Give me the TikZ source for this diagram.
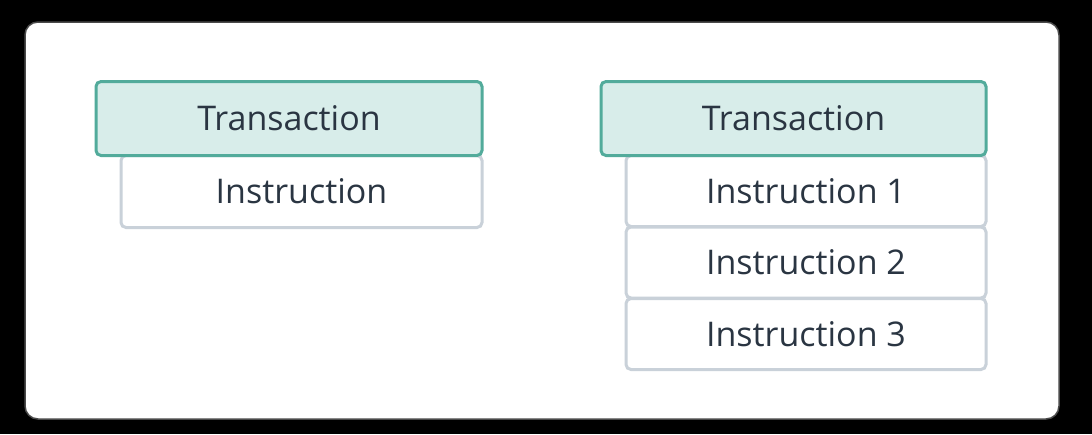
\documentclass[tikz,border=0pt]{standalone}
\usepackage{fontspec}
\setmainfont{Open Sans}
\definecolor{teal}{HTML}{52AB9B}
\definecolor{tealfill}{HTML}{D8EDEA}
\definecolor{graybd}{HTML}{C9D1D9}
\definecolor{txt}{HTML}{2A3542}
\definecolor{frame}{HTML}{4A4A4A}
\tikzset{
  txbox/.style={draw=teal, fill=tealfill, line width=3pt, rounded corners=5pt, inner sep=0pt, text=txt, font=\fontsize{34}{40}\selectfont},
  insbox/.style={draw=graybd, fill=white, line width=3pt, rounded corners=5pt, inner sep=0pt, text=txt, font=\fontsize{34}{40}\selectfont}
}
\begin{document}
\begin{tikzpicture}[x=1pt,y=-1pt]
\useasboundingbox (0,0) rectangle (1092,434);
\fill[black] (0,0) rectangle (1092,434);
\draw[frame, fill=white, line width=1.5pt, rounded corners=13pt] (25,22) rectangle (1059,419);
% left group
\node[insbox, minimum width=361pt, minimum height=72pt] (ins) at (301.5,191.5) {Instruction};
\node[txbox, minimum width=386pt, minimum height=74pt] (tx1) at (289,118.5) {Transaction};
% right group
\node[insbox, minimum width=360pt, minimum height=71pt] (i1) at (806,191) {Instruction 1};
\node[insbox, minimum width=360pt, minimum height=71pt] (i2) at (806,262.5) {Instruction 2};
\node[insbox, minimum width=360pt, minimum height=71pt] (i3) at (806,334) {Instruction 3};
\node[txbox, minimum width=385pt, minimum height=74pt] (tx2) at (793.5,118.5) {Transaction};
\end{tikzpicture}
\end{document}
